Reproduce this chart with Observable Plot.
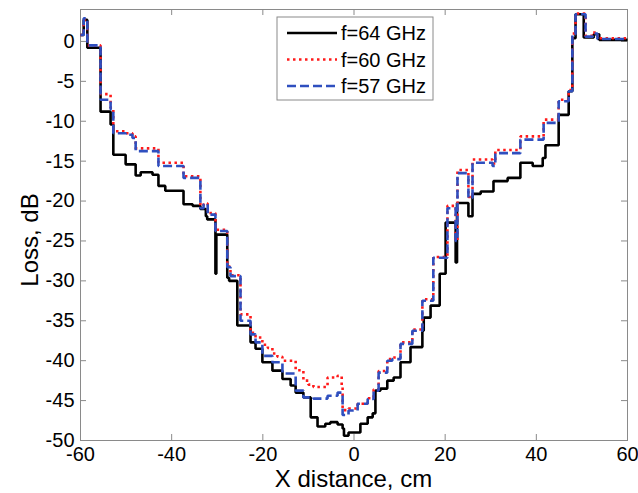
<!DOCTYPE html>
<html>
<head>
<meta charset="utf-8">
<script src="https://cdn.jsdelivr.net/npm/d3@7"></script>
<script src="https://cdn.jsdelivr.net/npm/@observablehq/plot@0.6"></script>
<style>
  html, body { margin: 0; padding: 0; background: #fff; }
  #chart { width: 638px; height: 493px; }
</style>
</head>
<body>
<div id="chart"></div>
<script>
// ---- data ----
const seriesNames = ["f=64 GHz", "f=60 GHz", "f=57 GHz"];
const seriesColors = ["#000000", "#ff1a1a", "#2f4fbf"];
const seriesDash = [null, "2.5,3.5", "9,4"];

const xTicks = [-60, -40, -20, 0, 20, 40, 60];
const yTicks = [0, -5, -10, -15, -20, -25, -30, -35, -40, -45, -50];

// f = 64 GHz (black, solid) — step breakpoints
const f64X = [-60, -59.3, -58.5, -55.6, -53.4, -52.8, -50.1, -47.9, -46.8, -44.2, -42.9, -41.4, -37.4, -35.4, -33.7, -32.5, -32.2, -30.4, -30.2, -27.8, -27.4, -25.6, -22.7, -21.6, -20.1, -17.9, -15.7, -13.9, -12.8, -11.1, -9.5, -8.0, -6.3, -5.2, -3.6, -2.5, -2.2, -1.2, 1.4, 3.0, 4.1, 4.7, 5.8, 7.3, 8.7, 10.2, 12.4, 15.0, 15.3, 16.8, 18.8, 20.1, 22.3, 22.6, 25.1, 26.0, 27.8, 30.6, 33.7, 36.5, 39.2, 41.4, 42.0, 44.9, 47.1, 47.9, 48.6, 50.4, 52.6, 53.8, 60];
const f64Y = [0.8, 2.7, -0.8, -8.8, -10.4, -14.2, -15.4, -16.8, -16.4, -16.7, -18.1, -18.7, -20.4, -20.6, -21.0, -21.9, -22.3, -29.1, -24.2, -29.6, -30.0, -35.6, -37.7, -38.5, -40.2, -41.25, -42.3, -43.1, -44.0, -44.6, -47.1, -48.25, -47.9, -47.7, -48.0, -48.5, -49.4, -49.0, -47.9, -47.1, -46.6, -43.75, -43.5, -42.5, -42.1, -40.2, -38.3, -36.25, -34.6, -33.1, -29.1, -22.7, -27.7, -20.25, -21.9, -19.1, -18.8, -17.5, -17.1, -15.2, -15.6, -14.6, -13.0, -9.2, -6.25, 0.4, 3.4, 0.5, 0.9, 0.2, 0.2];

// f = 60 GHz (red, dotted)
const f60X = [-60, -59.3, -58.5, -55.6, -53.4, -52.8, -50.1, -48.6, -47.9, -42.9, -37.4, -33.7, -33.0, -32.1, -30.4, -27.8, -27.1, -24.9, -22.7, -21.6, -20.1, -18.9, -17.9, -16.8, -15.7, -12.8, -11.1, -10.0, -8.9, -5.8, -3.6, -2.7, -2.5, -1.2, 0.8, 3.0, 4.3, 5.4, 7.3, 8.4, 10.2, 12.8, 15.0, 17.4, 20.5, 22.3, 22.7, 25.1, 26.0, 30.4, 31.0, 36.5, 41.6, 44.9, 47.1, 47.9, 48.6, 50.8, 52.4, 53.4, 60];
const f60Y = [0.8, 2.7, -0.5, -6.6, -8.3, -11.25, -11.5, -11.9, -13.4, -15.2, -16.9, -20.6, -20.3, -21.5, -23.6, -28.2, -29.3, -34.2, -36.5, -37.1, -38.0, -38.4, -39.1, -39.5, -40.0, -41.2, -42.5, -43.0, -43.3, -42.1, -41.9, -43.3, -46.2, -46.0, -45.4, -44.7, -43.6, -41.3, -39.8, -39.6, -37.7, -36.1, -32.3, -27.0, -20.6, -25.0, -16.1, -19.5, -14.8, -15.3, -13.6, -11.9, -9.8, -7.3, -6.1, 1.0, 3.5, 0.7, 1.1, 0.4, 0.4];

// f = 57 GHz (blue, dashed)
const f57X = [-60, -59.3, -58.5, -55.6, -53.4, -52.8, -50.1, -48.6, -47.9, -42.9, -37.4, -33.7, -33.0, -32.1, -30.4, -27.8, -27.1, -24.9, -22.7, -21.6, -20.1, -17.9, -15.7, -12.8, -11.1, -8.9, -5.8, -3.6, -2.5, -1.2, 0.8, 3.0, 4.3, 5.4, 7.3, 8.4, 10.2, 12.8, 15.0, 17.4, 20.5, 22.3, 22.7, 25.1, 26.0, 30.4, 31.0, 36.5, 41.6, 44.9, 47.1, 47.9, 48.6, 50.8, 52.4, 53.4, 60];
const f57Y = [0.8, 2.9, -0.5, -7.3, -8.5, -11.5, -11.7, -12.1, -13.75, -15.6, -17.1, -20.9, -20.4, -21.7, -23.75, -28.3, -29.4, -35.0, -36.7, -37.7, -39.4, -40.2, -41.6, -43.75, -44.6, -44.75, -44.4, -44.0, -46.8, -46.25, -45.4, -44.8, -43.75, -41.5, -40.0, -39.8, -37.9, -36.25, -32.5, -27.1, -20.9, -25.0, -16.5, -19.6, -15.2, -15.6, -14.0, -12.3, -10.2, -7.5, -6.25, 0.9, 3.4, 0.6, 1.0, 0.3, 0.3];

const xLabel = "X distance, cm";
const yLabel = "Loss, dB";

// ---- build ----
const seriesX = [f64X, f60X, f57X];
const seriesY = [f64Y, f60Y, f57Y];
const tables = seriesX.map((xs, s) => xs.map((x, i) => ({x, y: seriesY[s][i]})));

const W = 638, H = 493;
const mL = 80, mR = 11, mT = 9, mB = 53;
const pw = W - mL - mR, ph = H - mT - mB;
const tickLen = 6;
const axisColor = "#8a8a8a";
const font = "'Liberation Sans', Arial, Helvetica, sans-serif";

const lineMarks = tables.map((t, s) => Plot.line(t, {
  x: "x", y: "y", curve: "step-after",
  stroke: seriesColors[s], strokeWidth: 2.6,
  strokeDasharray: seriesDash[s] || undefined,
  strokeLinejoin: "miter", strokeLinecap: "butt"
}));

const svg = Plot.plot({
  width: W, height: H,
  marginLeft: mL, marginRight: mR, marginTop: mT, marginBottom: mB,
  style: {fontSize: "20px", fontFamily: font, background: "#fff", color: "#000", overflow: "visible"},
  x: {domain: [-60, 60], ticks: xTicks, tickSize: 0, tickPadding: 6, tickFormat: d => String(d), label: null},
  y: {domain: [-50, 4], ticks: yTicks, tickSize: 0, tickPadding: 6, tickFormat: d => String(d), label: null},
  marks: [
    Plot.frame({stroke: axisColor, strokeWidth: 1}),
    Plot.tickX(xTicks, {x: d => d, insetTop: ph - tickLen, stroke: axisColor}),
    Plot.tickX(xTicks, {x: d => d, insetBottom: ph - tickLen, stroke: axisColor}),
    Plot.tickY(yTicks, {y: d => d, insetRight: pw - tickLen, stroke: axisColor}),
    Plot.tickY(yTicks, {y: d => d, insetLeft: pw - tickLen, stroke: axisColor}),
    ...lineMarks
  ]
});

const sel = d3.select(svg);
// tick labels: force the intended size on every text Plot produced
sel.selectAll("text").attr("font-size", null).style("font-size", "20px").style("font-family", font);
sel.selectAll("g").filter(function() { return this.getAttribute("font-size") != null; })
  .attr("font-size", 20);

// ---- axis titles ----
sel.append("text")
  .attr("x", mL + pw / 2).attr("y", mT + ph + 38)
  .attr("text-anchor", "middle").attr("dominant-baseline", "central")
  .style("font-size", "24px").style("font-family", font).attr("fill", "#000")
  .text(xLabel);
sel.append("text")
  .attr("transform", `translate(${29},${240}) rotate(-90)`)
  .attr("text-anchor", "middle").attr("dominant-baseline", "central")
  .style("font-size", "24px").style("font-family", font).attr("fill", "#000")
  .text(yLabel);

// ---- legend inside the axes (top centre) ----
const lg = sel.append("g");
const lx = 277, ly = 17, lw = 156, lh = 83, rowH = 26.5;
lg.append("rect").attr("x", lx).attr("y", ly).attr("width", lw).attr("height", lh)
  .attr("fill", "#fff").attr("stroke", axisColor).attr("stroke-width", 1);
seriesNames.forEach((name, i) => {
  const cy = ly + 16 + i * rowH;
  lg.append("line").attr("x1", lx + 10).attr("x2", lx + 60).attr("y1", cy).attr("y2", cy)
    .attr("stroke", seriesColors[i]).attr("stroke-width", 2.6)
    .attr("stroke-dasharray", seriesDash[i]);
  lg.append("text").attr("x", lx + 64).attr("y", cy)
    .attr("text-anchor", "start").attr("dominant-baseline", "central")
    .style("font-size", "20px").style("font-family", font)
    .attr("fill", "#000").text(name);
});

document.getElementById("chart").appendChild(svg);
</script>
</body>
</html>
